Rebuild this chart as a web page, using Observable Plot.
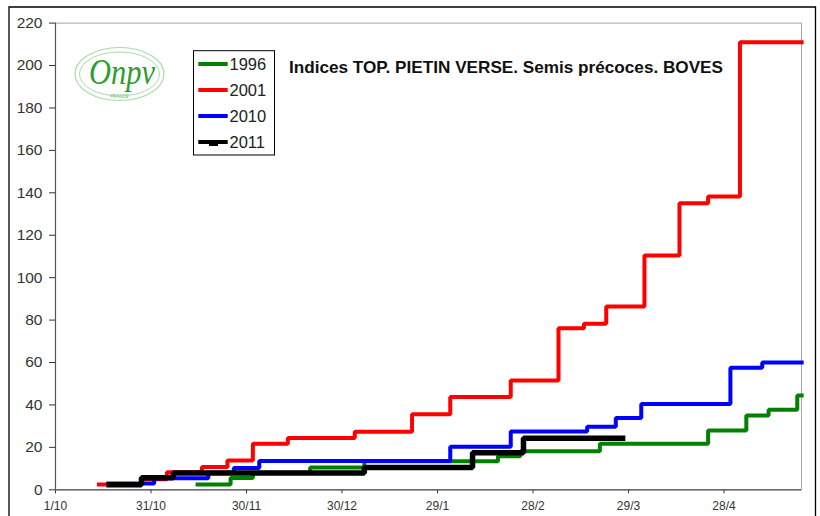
<!DOCTYPE html>
<html>
<head>
<meta charset="utf-8">
<script src="https://cdn.jsdelivr.net/npm/d3@7"></script>
<script src="https://cdn.jsdelivr.net/npm/@observablehq/plot@0.6"></script>
<style>
  html, body { margin: 0; padding: 0; background: #fff; }
  svg { display: block; }
</style>
</head>
<body>
<div id="chart"></div>
<script>
// ---- Data (season mapped onto 2011-2012) ----
const seriesNames = ["1996", "2001", "2010", "2011"];
const seriesColors = ["#008000", "#ff0000", "#0000ff", "#000000"];

const dates1996 = ["2011-11-14","2011-11-25","2011-12-02","2011-12-20","2012-01-06","2012-02-17","2012-02-24","2012-03-20","2012-04-23","2012-05-05","2012-05-12","2012-05-21","2012-05-23"];
const values1996 = [2.5, 5.6, 8, 10.5, 13.5, 15.8, 18.2, 21.7, 28, 35, 37.7, 44.5, 44.5];

const dates2001 = ["2011-10-14","2011-10-28","2011-11-05","2011-11-16","2011-11-24","2011-12-02","2011-12-13","2012-01-03","2012-01-21","2012-02-02","2012-02-21","2012-03-07","2012-03-15","2012-03-22","2012-04-03","2012-04-14","2012-04-23","2012-05-03","2012-05-23"];
const values2001 = [2.5, 5, 8.3, 10.7, 13.8, 21.7, 24.4, 27.4, 35.6, 43.7, 51.5, 76.2, 78.3, 86.4, 110.5, 135.1, 138.3, 211, 211];

const dates2010 = ["2011-10-17","2011-11-01","2011-11-18","2011-11-26","2011-12-04","2012-02-02","2012-02-21","2012-03-16","2012-03-25","2012-04-02","2012-04-30","2012-05-10","2012-05-23"];
const values2010 = [3, 5.5, 8, 10.3, 13.6, 20.3, 27.5, 29.7, 33.9, 40.5, 57.5, 60, 60];

const dates2011 = ["2011-10-17","2011-10-28","2011-11-07","2012-01-06","2012-02-09","2012-02-25","2012-03-28"];
const values2011 = [2.4, 5.7, 7.9, 10.5, 17.5, 24.3, 24.3];

const xTickDates = ["2011-10-01","2011-10-31","2011-11-30","2011-12-30","2012-01-29","2012-02-28","2012-03-29","2012-04-28"];
const xTickLabels = ["1/10","31/10","30/11","30/12","29/1","28/2","29/3","28/4"];
const yTicks = [0, 20, 40, 60, 80, 100, 120, 140, 160, 180, 200, 220];

const titleText = "Indices TOP. PIETIN VERSE. Semis précoces. BOVES";

// ---- Build tables ----
const toRows = (dates, values, name) => dates.map((d, i) => ({date: new Date(d), value: values[i], series: name}));
const rows = [
  toRows(dates1996, values1996, "1996"),
  toRows(dates2001, values2001, "2001"),
  toRows(dates2010, values2010, "2010"),
  toRows(dates2011, values2011, "2011")
];
const tickDates = xTickDates.map(d => new Date(d));
const xStart = new Date("2011-10-01");
const xEnd = new Date(Date.UTC(2012, 4, 22, 8));

const font = "'Liberation Sans', Arial, sans-serif";

const plot = Plot.plot({
  width: 820,
  height: 516,
  marginLeft: 55,
  marginRight: 19,
  marginTop: 22.6,
  marginBottom: 26.7,
  style: {fontFamily: font, background: "#fff", overflow: "visible"},
  x: {type: "utc", domain: [xStart, xEnd]},
  y: {domain: [0, 220]},
  marks: [
    Plot.frame({stroke: "#a6a6a6"}),
    Plot.axisY({ticks: yTicks, tickSize: 6, tickPadding: 7, fontSize: 15.5, color: "#333", label: null}),
    Plot.axisX({ticks: tickDates, tickSize: 4, tickPadding: 8, fontSize: 12, color: "#333", label: null,
      tickFormat: d => xTickLabels[tickDates.findIndex(t => +t === +d)]}),
    Plot.ruleY([0], {stroke: "#555", strokeWidth: 1.2}),
    Plot.ruleX([xStart], {stroke: "#555", strokeWidth: 1.2}),
    ...rows.map((r, i) => Plot.line(r, {
      x: "date", y: "value", curve: "step-after",
      stroke: seriesColors[i], strokeWidth: i === 3 ? 5.5 : 4,
      strokeLinecap: "butt", strokeLinejoin: "miter", clip: false
    }))
  ]
});

document.getElementById("chart").appendChild(plot);
const svg = d3.select(plot);

// outer chart border
svg.append("path")
  .attr("d", "M9,530V7H815.5V530")
  .attr("fill", "none").attr("stroke", "#000").attr("stroke-width", 1.3);

// title
svg.append("text")
  .attr("x", 289).attr("y", 72.8).attr("text-anchor", "start")
  .attr("font-family", font).attr("font-weight", "bold").attr("font-size", 16.5)
  .attr("textLength", 434).attr("lengthAdjust", "spacingAndGlyphs")
  .attr("fill", "#111")
  .text(titleText);

// legend
const lg = svg.append("g").attr("text-anchor", "start");
lg.append("rect").attr("x", 193.5).attr("y", 50.7).attr("width", 81).attr("height", 104.3)
  .attr("fill", "#fff").attr("stroke", "#000").attr("stroke-width", 1);
seriesNames.forEach((name, i) => {
  const yy = 64 + i * 26;
  lg.append("line").attr("x1", 198.3).attr("x2", 227.7).attr("y1", yy).attr("y2", yy)
    .attr("stroke", seriesColors[i]).attr("stroke-width", 4);
  if (i === 3) {
    lg.append("rect").attr("x", 209).attr("y", yy).attr("width", 9).attr("height", 4).attr("fill", "#000");
  }
  lg.append("text").attr("x", 229.5).attr("y", yy).attr("dy", "0.36em").attr("text-anchor", "start")
    .attr("font-family", font).attr("font-size", 16.5).attr("fill", "#222").text(name);
});

// logo
const logo = svg.append("g");
logo.append("ellipse").attr("cx", 119.5).attr("cy", 74).attr("rx", 44.5).attr("ry", 26.5)
  .attr("fill", "none").attr("stroke", "#a8dca8").attr("stroke-width", 1.2);
logo.append("ellipse").attr("cx", 119.5).attr("cy", 74).attr("rx", 40).attr("ry", 22)
  .attr("fill", "none").attr("stroke", "#a8dca8").attr("stroke-width", 1);
logo.append("text").attr("x", 122).attr("y", 84).attr("text-anchor", "middle")
  .attr("font-family", "'Liberation Serif', serif").attr("font-style", "italic")
  .attr("font-size", 36).attr("fill", "#2c9e2c").attr("textLength", 66).attr("lengthAdjust", "spacingAndGlyphs")
  .text("Onpv");
logo.append("text").attr("x", 119.5).attr("y", 98).attr("text-anchor", "middle")
  .attr("font-family", font).attr("font-size", 4.5).attr("fill", "#6cbf6c").text("FRANCE");
</script>
</body>
</html>
